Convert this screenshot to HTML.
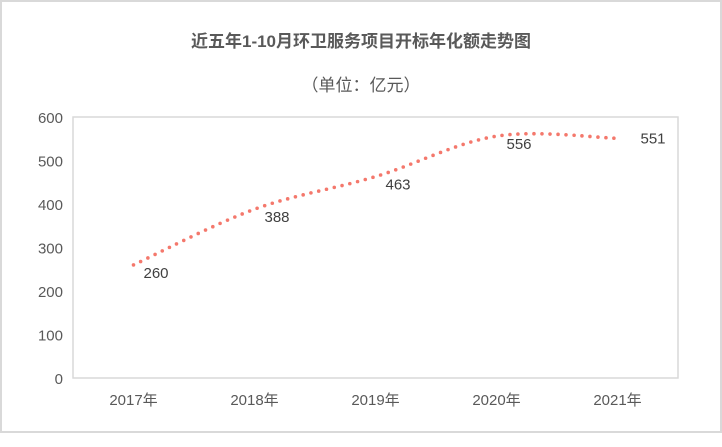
<!DOCTYPE html>
<html><head><meta charset="utf-8"><style>
body{margin:0;background:#fff}
svg{display:block;font-family:"Liberation Sans","Noto Sans CJK SC",sans-serif}
</style></head><body>
<svg width="722" height="447" viewBox="0 0 722 447" xmlns="http://www.w3.org/2000/svg">
<rect x="1" y="1" width="720" height="431" fill="#fff" stroke="#d9d9d9" stroke-width="2"/>
<text x="361" y="47" text-anchor="middle" font-size="17" font-weight="bold" fill="#595959">近五年1-10月环卫服务项目开标年化额走势图</text>
<text x="361" y="91" text-anchor="middle" font-size="17" fill="#595959">（单位：亿元）</text>
<rect x="73" y="117" width="605" height="261" fill="none" stroke="#d9d9d9" stroke-width="1.5"/>
<g id="yaxis"></g><g id="xaxis"></g><g id="series"></g>
</svg>
<script>
const categories=["2017年","2018年","2019年","2020年","2021年"];
const values=[260,388,463,556,551];
const yTicks=[0,100,200,300,400,500,600];
const L=73,R=678,T=117,B=378,yMax=600;
const ns="http://www.w3.org/2000/svg";
const xs=i=>L+(R-L)/categories.length*(i+0.5);
const ys=v=>B-(B-T)*v/yMax;
function mk(tag,attrs,parent){const e=document.createElementNS(ns,tag);for(const k in attrs)e.setAttribute(k,attrs[k]);parent.appendChild(e);return e;}
const ya=document.getElementById('yaxis');
yTicks.forEach(t=>{const e=mk('text',{x:63,y:ys(t)+6,'text-anchor':'end','font-size':'15',fill:'#595959'},ya);


e.textContent=t;});
const xa=document.getElementById('xaxis');
categories.forEach((c,i)=>{const e=mk('text',{x:xs(i),y:405,'text-anchor':'middle','font-size':'15',fill:'#595959'},xa);


e.textContent=c;});
const pts=values.map((v,i)=>[xs(i),ys(v)]);
let d=`M${pts[0][0]},${pts[0][1]}`;
for(let i=0;i<pts.length-1;i++){const p0=pts[i-1]||pts[i],p1=pts[i],p2=pts[i+1],p3=pts[i+2]||p2;const k=1/6;
d+=` C${p1[0]+(p2[0]-p0[0])*k},${p1[1]+(p2[1]-p0[1])*k} ${p2[0]-(p3[0]-p1[0])*k},${p2[1]-(p3[1]-p1[1])*k} ${p2[0]},${p2[1]}`;}
const s=document.getElementById('series');
const line=mk('path',{d:d,fill:'none',stroke:'#f4786c','stroke-width':'3.6','stroke-linecap':'round','stroke-dasharray':'0 8'},s);


values.forEach((v,i)=>{const last=i===values.length-1;
const e=mk('text',{x:pts[i][0]+(last?23:10),y:pts[i][1]+(last?5:13),'font-size':'15',fill:'#404040'},s);


e.textContent=v;});
</script>
</body></html>
